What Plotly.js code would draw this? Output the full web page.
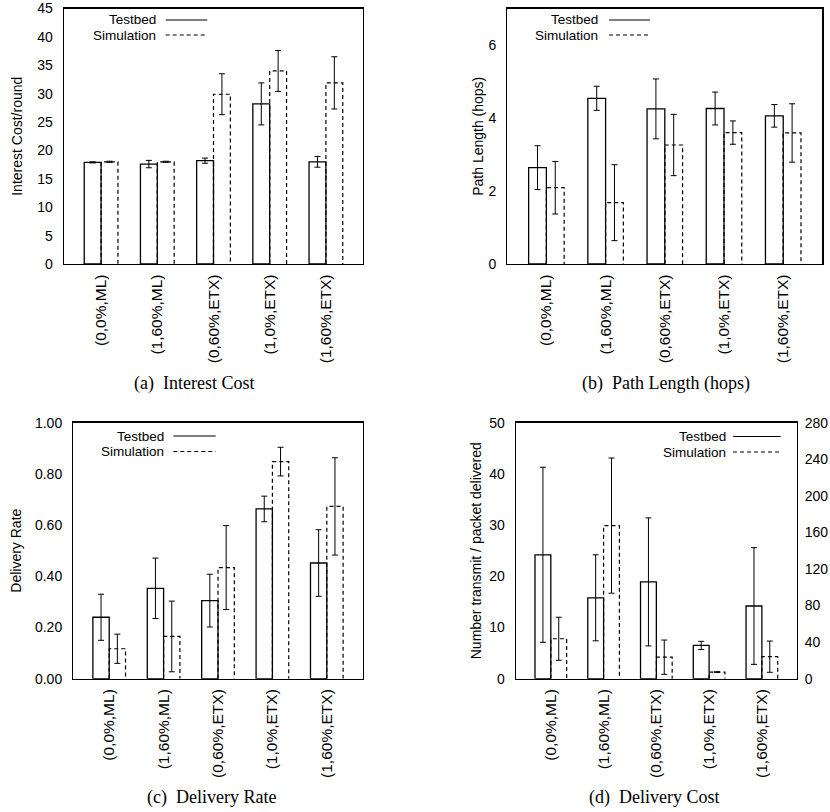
<!DOCTYPE html>
<html><head><meta charset="utf-8">
<script src="https://cdn.plot.ly/plotly-3.0.1.min.js"></script>
<style>html,body{margin:0;padding:0;background:#fff}#chart{width:830px;height:812px}</style>
</head><body><div id="chart"></div>
<script>
const categories = ["(0,0%,ML)","(1,60%,ML)","(0,60%,ETX)","(1,0%,ETX)","(1,60%,ETX)"];
const seriesNames = ["Testbed","Simulation"];

const costTestbed = [17.9, 17.6, 18.2, 28.2, 18.0];
const costTestbedErr = [0.1, 0.65, 0.45, 3.7, 0.95];
const costSim = [18.0, 18.0, 29.9, 34.0, 31.9];
const costSimErr = [0.1, 0.1, 3.6, 3.6, 4.6];

const pathTestbed = [2.64, 4.54, 4.25, 4.26, 4.06];
const pathTestbedErr = [0.6, 0.33, 0.82, 0.45, 0.31];
const pathSim = [2.09, 1.68, 3.26, 3.60, 3.59];
const pathSimErr = [0.72, 1.04, 0.84, 0.32, 0.8];

const rateTestbed = [0.240, 0.353, 0.305, 0.663, 0.452];
const rateTestbedErr = [0.09, 0.118, 0.103, 0.05, 0.13];
const rateSim = [0.117, 0.165, 0.434, 0.848, 0.673];
const rateSimErr = [0.057, 0.138, 0.164, 0.056, 0.19];

const costDeliveryTestbed = [24.2, 15.8, 18.9, 6.5, 14.2];
const costDeliveryTestbedErr = [17.1, 8.4, 12.5, 0.8, 11.4];
const costDeliverySim = [7.8, 29.9, 4.2, 1.3, 4.3];
const costDeliverySimErr = [4.2, 13.2, 3.35, 0.05, 3.05];

const W = 830, H = 812;
const X = p => p / W;
const Y = p => 1 - p / H;
const SANS = "Liberation Sans, Arial, Helvetica, sans-serif";
const SERIF = "Liberation Serif, Times New Roman, serif";
const DASH = "4px,3px";
const BARW = 0.3;

const panels = [
  {xa:'x', ya:'y', tb:costTestbed, tbe:costTestbedErr, sm:costSim, sme:costSimErr,
   xdom:[X(64),X(363)], ydom:[Y(264),Y(8.5)], yr:[0,45], dt:5, fmt:'', title:'Interest Cost/round', standoff:11,
   leg:{tr:156.7, l0:165.7, l1:207.3, y1:20, y2:35}, cap:{text:'(a)  Interest Cost', x:194, y:383}},
  {xa:'x2', ya:'y2', tb:pathTestbed, tbe:pathTestbedErr, sm:pathSim, sme:pathSimErr,
   xdom:[X(507.3),X(822.3)], ydom:[Y(264),Y(8.5)], yr:[0,7], dt:2, fmt:'', title:'Path Length (hops)', standoff:1,
   leg:{tr:599.3, l0:609, l1:650, y1:20, y2:35}, cap:{text:'(b)  Path Length (hops)', x:666, y:383}},
  {xa:'x3', ya:'y3', tb:rateTestbed, tbe:rateTestbedErr, sm:rateSim, sme:rateSimErr,
   xdom:[X(73.3),X(362.7)], ydom:[Y(678.7),Y(422.7)], yr:[0,1], dt:0.2, fmt:'.2f', title:'Delivery Rate', standoff:10,
   leg:{tr:165, l0:173.3, l1:215.7, y1:436, y2:451.5}, cap:{text:'(c)  Delivery Rate', x:211, y:797}},
  {xa:'x4', ya:'y4', tb:costDeliveryTestbed, tbe:costDeliveryTestbedErr, sm:costDeliverySim, sme:costDeliverySimErr,
   xdom:[X(516),X(796.7)], ydom:[Y(678.7),Y(422.7)], yr:[0,50], dt:10, fmt:'', title:'Number transmit / packet delivered', standoff:4,
   leg:{tr:727, l0:733, l1:780.7, y1:436.5, y2:452}, cap:{text:'(d)  Delivery Cost', x:653.7, y:797}}
];

const idx = categories.map((_, i) => i);
const traces = [];
const layout = {
  width: W, height: H, margin:{l:0,r:0,t:0,b:0},
  paper_bgcolor:'#fff', plot_bgcolor:'#fff',
  barmode:'group', bargap:0.4, bargroupgap:0,
  showlegend:false, font:{family:SANS, color:'#000'},
  annotations:[], shapes:[]
};

panels.forEach(p => {
  const err = arr => ({type:'data', array:arr, visible:true, color:'#000', thickness:1, width:3});
  traces.push({type:'bar', name:seriesNames[0], x:idx, y:p.tb, xaxis:p.xa, yaxis:p.ya,
    marker:{color:'#fff', line:{color:'#000', width:1.3}}, error_y:err(p.tbe), hoverinfo:'y'});
  traces.push({type:'bar', name:seriesNames[1], x:idx, y:p.sm, xaxis:p.xa, yaxis:p.ya,
    marker:{color:'rgba(0,0,0,0)', line:{color:'rgba(0,0,0,0)', width:0}}, error_y:err(p.sme), hoverinfo:'y'});
  // dashed outline of simulation bars, built from the data values
  const ox = [], oy = [];
  p.sm.forEach((v, i) => { ox.push(i, i, i + BARW, i + BARW, null); oy.push(0, v, v, 0, null); });
  traces.push({type:'scatter', mode:'lines', x:ox, y:oy, xaxis:p.xa, yaxis:p.ya,
    line:{color:'#000', width:1.2, dash:DASH}, hoverinfo:'skip', connectgaps:false});

  const xk = p.xa === 'x' ? 'xaxis' : 'xaxis' + p.xa.slice(1);
  const yk = p.ya === 'y' ? 'yaxis' : 'yaxis' + p.ya.slice(1);
  layout[xk] = {domain:p.xdom, anchor:p.ya, range:[-0.66,4.66], tickvals:idx, ticktext:categories,
    tickangle:-90, showline:true, mirror:true, linecolor:'#000', linewidth:1.3, showgrid:false,
    zeroline:false, ticks:'', ticklabelstandoff:3, ticklabeloverflow:'allow',
    tickfont:{family:SANS, size:15.5, color:'#000'}, fixedrange:true};
  layout[yk] = {domain:p.ydom, anchor:p.xa, range:p.yr, dtick:p.dt, tick0:0, tickformat:p.fmt,
    showline:true, mirror:true, linecolor:'#000', linewidth:1.3, showgrid:false, zeroline:false,
    ticks:'', ticklabelstandoff:7, ticklabeloverflow:'allow', tickfont:{family:SANS, size:14, color:'#000'},
    title:{text:p.title, font:{family:SANS, size:14, color:'#000'}, standoff:p.standoff}, fixedrange:true};

  // legend (text left, sample line right)
  const L = p.leg;
  layout.annotations.push({xref:'paper', yref:'paper', x:X(L.tr), y:Y(L.y1), xanchor:'right', yanchor:'middle',
    text:seriesNames[0], showarrow:false, borderpad:0, font:{family:SANS, size:13.5, color:'#000'}});
  layout.annotations.push({xref:'paper', yref:'paper', x:X(L.tr), y:Y(L.y2), xanchor:'right', yanchor:'middle',
    text:seriesNames[1], showarrow:false, borderpad:0, font:{family:SANS, size:13.5, color:'#000'}});
  layout.shapes.push({type:'line', xref:'paper', yref:'paper', x0:X(L.l0), x1:X(L.l1), y0:Y(L.y1), y1:Y(L.y1),
    line:{color:'#000', width:1.2}});
  layout.shapes.push({type:'line', xref:'paper', yref:'paper', x0:X(L.l0), x1:X(L.l1), y0:Y(L.y2), y1:Y(L.y2),
    line:{color:'#000', width:1.2, dash:DASH}});

  layout.annotations.push({xref:'paper', yref:'paper', x:X(p.cap.x), y:Y(p.cap.y), xanchor:'center', yanchor:'middle',
    text:p.cap.text, showarrow:false, font:{family:SERIF, size:18, color:'#000'}});
});

// secondary (right) axis for panel (d)
layout.yaxis5 = {overlaying:'y4', side:'right', anchor:'x4', range:[0,280], dtick:40, tick0:0,
  showline:false, showgrid:false, zeroline:false, ticks:'', ticklabelstandoff:7, ticklabeloverflow:'allow',
  tickfont:{family:SANS, size:14, color:'#000'}, fixedrange:true};
traces.push({type:'scatter', mode:'none', x:[], y:[], xaxis:'x4', yaxis:'y5', hoverinfo:'skip'});

Plotly.newPlot('chart', traces, layout, {staticPlot:true, displayModeBar:false});
</script>
</body></html>
